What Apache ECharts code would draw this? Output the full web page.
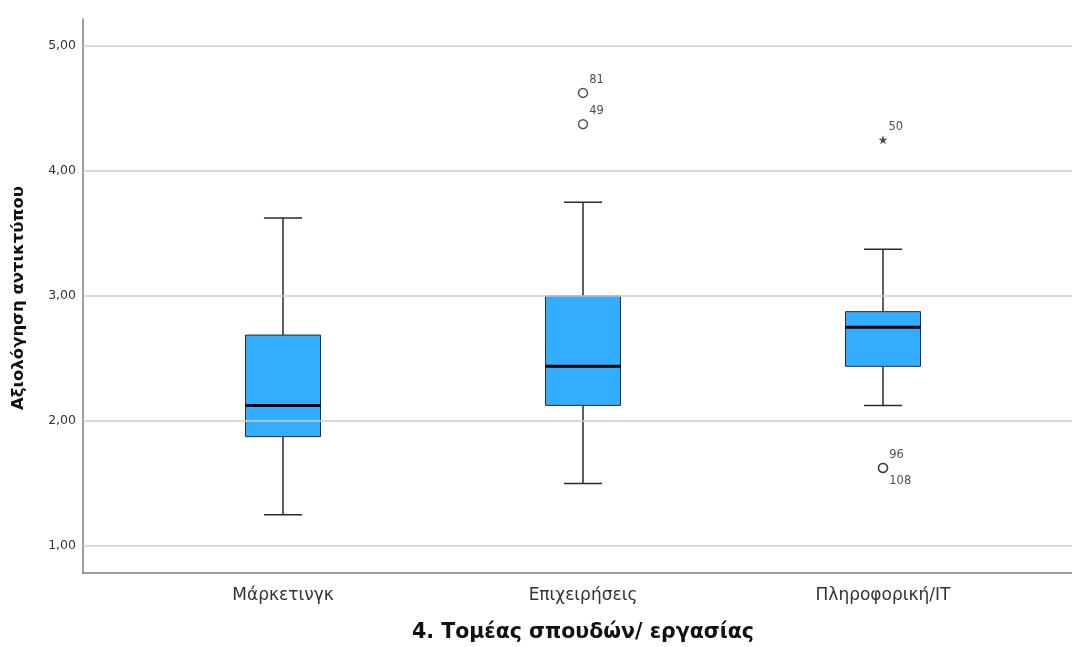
<!DOCTYPE html>
<html>
<head>
<meta charset="utf-8">
<script src="https://cdn.jsdelivr.net/npm/echarts@6/dist/echarts.min.js"></script>
<style>
html,body{margin:0;padding:0;background:#fff;}
#chart{width:1072px;height:647px;}
</style>
</head>
<body>
<div id="chart"></div>
<script>
// ---- data ----
const categories = ['Μάρκετινγκ', 'Επιχειρήσεις', 'Πληροφορική/IT'];
const whiskerLow = [1.25, 1.5, 2.125];
const quartile1 = [1.875, 2.125, 2.4375];
const medians = [2.125, 2.4375, 2.75];
const quartile3 = [2.6875, 3.0, 2.875];
const whiskerHigh = [3.625, 3.75, 3.375];
// outliers: [category index, value, case label]
const outliersAbove = [[1, 4.625, '81'], [1, 4.375, '49'], [2, 1.625, '96']];
const outliersBelow = [[2, 1.625, '108']];
const extremes = [[2, 4.25, '50']];
const yTicks = [1, 2, 3, 4, 5];
const yTitle = 'Αξιολόγηση αντικτύπου';
const xTitle = '4. Τομέας σπουδών/ εργασίας';

const FONT = '"DejaVu Sans", Verdana, sans-serif';
const boxData = categories.map((c, i) => [i, whiskerLow[i], quartile1[i], medians[i], quartile3[i], whiskerHigh[i]]);
const starPath = 'path://M0,-1 L0.2245,-0.309 L0.951,-0.309 L0.363,0.118 L0.588,0.809 L0,0.382 L-0.588,0.809 L-0.363,0.118 L-0.951,-0.309 L-0.2245,-0.309 Z';

const chart = echarts.init(document.getElementById('chart'), null, {renderer: 'canvas'});
const labelStyle = {show: true, position: 'right', distance: 1, fontFamily: FONT, fontSize: 11.5, color: '#222', formatter: p => p.data[2]};

chart.setOption({
  animation: false,
  backgroundColor: '#fff',
  grid: {left: 83, right: 0, top: 19, bottom: 74, containLabel: false},
  xAxis: {
    type: 'value', min: -2/3, max: 2.63,
    axisLine: {show: true, onZero: false, lineStyle: {color: '#7f7f7f', width: 1.5}},
    axisTick: {show: false},
    splitLine: {show: false},
    axisLabel: {
      customValues: [0, 1, 2],
      formatter: v => categories[Math.round(v)] || '',
      fontFamily: FONT, fontSize: 17, color: '#333', margin: 14
    }
  },
  yAxis: {
    type: 'value', min: 0.784, max: 5.216,
    axisLine: {show: true, onZero: false, lineStyle: {color: '#7f7f7f', width: 1.5}},
    axisTick: {show: false},
    splitLine: {show: false},
    axisLabel: {
      customValues: yTicks,
      formatter: v => v.toFixed(2).replace('.', ','),
      fontFamily: FONT, fontSize: 12.5, color: '#333', margin: 7
    }
  },
  graphic: [
    {type: 'text', x: 583, y: 622, style: {text: xTitle, font: 'bold 20.5px ' + FONT, fill: '#111', textAlign: 'center', textVerticalAlign: 'top'}},
    {type: 'text', x: 10, y: 298, rotation: Math.PI / 2, style: {text: yTitle, font: 'bold 16.5px ' + FONT, fill: '#111', textAlign: 'center', textVerticalAlign: 'top'}}
  ],
  series: [
    {
      type: 'line', data: [], z: 1, silent: true,
      markLine: {
        silent: true, symbol: 'none', label: {show: false}, animation: false,
        lineStyle: {color: '#cccccc', width: 1.5, type: 'solid'},
        data: yTicks.map(t => ({yAxis: t}))
      }
    },
    {
      type: 'custom',
      data: boxData,
      z: 3,
      renderItem: function (params, api) {
        const x = api.value(0);
        const lo = api.coord([x, api.value(1)]);
        const q1 = api.coord([x, api.value(2)]);
        const md = api.coord([x, api.value(3)]);
        const q3 = api.coord([x, api.value(4)]);
        const hi = api.coord([x, api.value(5)]);
        const bw = api.size([0.25, 0])[0];
        const cw = api.size([0.127, 0])[0];
        const cx = lo[0];
        const ls = {stroke: '#2b2b2b', lineWidth: 1.5};
        return {
          type: 'group',
          children: [
            {type: 'line', shape: {x1: cx, y1: lo[1], x2: cx, y2: q1[1]}, style: ls},
            {type: 'line', shape: {x1: cx, y1: q3[1], x2: cx, y2: hi[1]}, style: ls},
            {type: 'line', shape: {x1: cx - cw / 2, y1: lo[1], x2: cx + cw / 2, y2: lo[1]}, style: ls},
            {type: 'line', shape: {x1: cx - cw / 2, y1: hi[1], x2: cx + cw / 2, y2: hi[1]}, style: ls},
            {type: 'rect', shape: {x: cx - bw / 2, y: q3[1], width: bw, height: q1[1] - q3[1]}, style: {fill: '#33adff', stroke: '#2b2b2b', lineWidth: 1}},
            {type: 'line', shape: {x1: cx - bw / 2, y1: md[1], x2: cx + bw / 2, y2: md[1]}, style: {stroke: '#000', lineWidth: 3}}
          ]
        };
      }
    },
    {
      type: 'scatter', data: outliersAbove, z: 4,
      symbol: 'circle', symbolSize: 9,
      itemStyle: {color: '#fff', borderColor: '#2b2b2b', borderWidth: 1.5},
      label: Object.assign({}, labelStyle, {offset: [0, -13]})
    },
    {
      type: 'scatter', data: outliersBelow, z: 4,
      symbol: 'circle', symbolSize: 9,
      itemStyle: {color: '#fff', borderColor: '#2b2b2b', borderWidth: 1.5},
      label: Object.assign({}, labelStyle, {offset: [0, 13]})
    },
    {
      type: 'scatter', data: extremes, z: 4,
      symbol: starPath, symbolSize: 9,
      itemStyle: {color: '#222'},
      label: Object.assign({}, labelStyle, {offset: [0, -13]})
    }
  ]
});
</script>
</body>
</html>
